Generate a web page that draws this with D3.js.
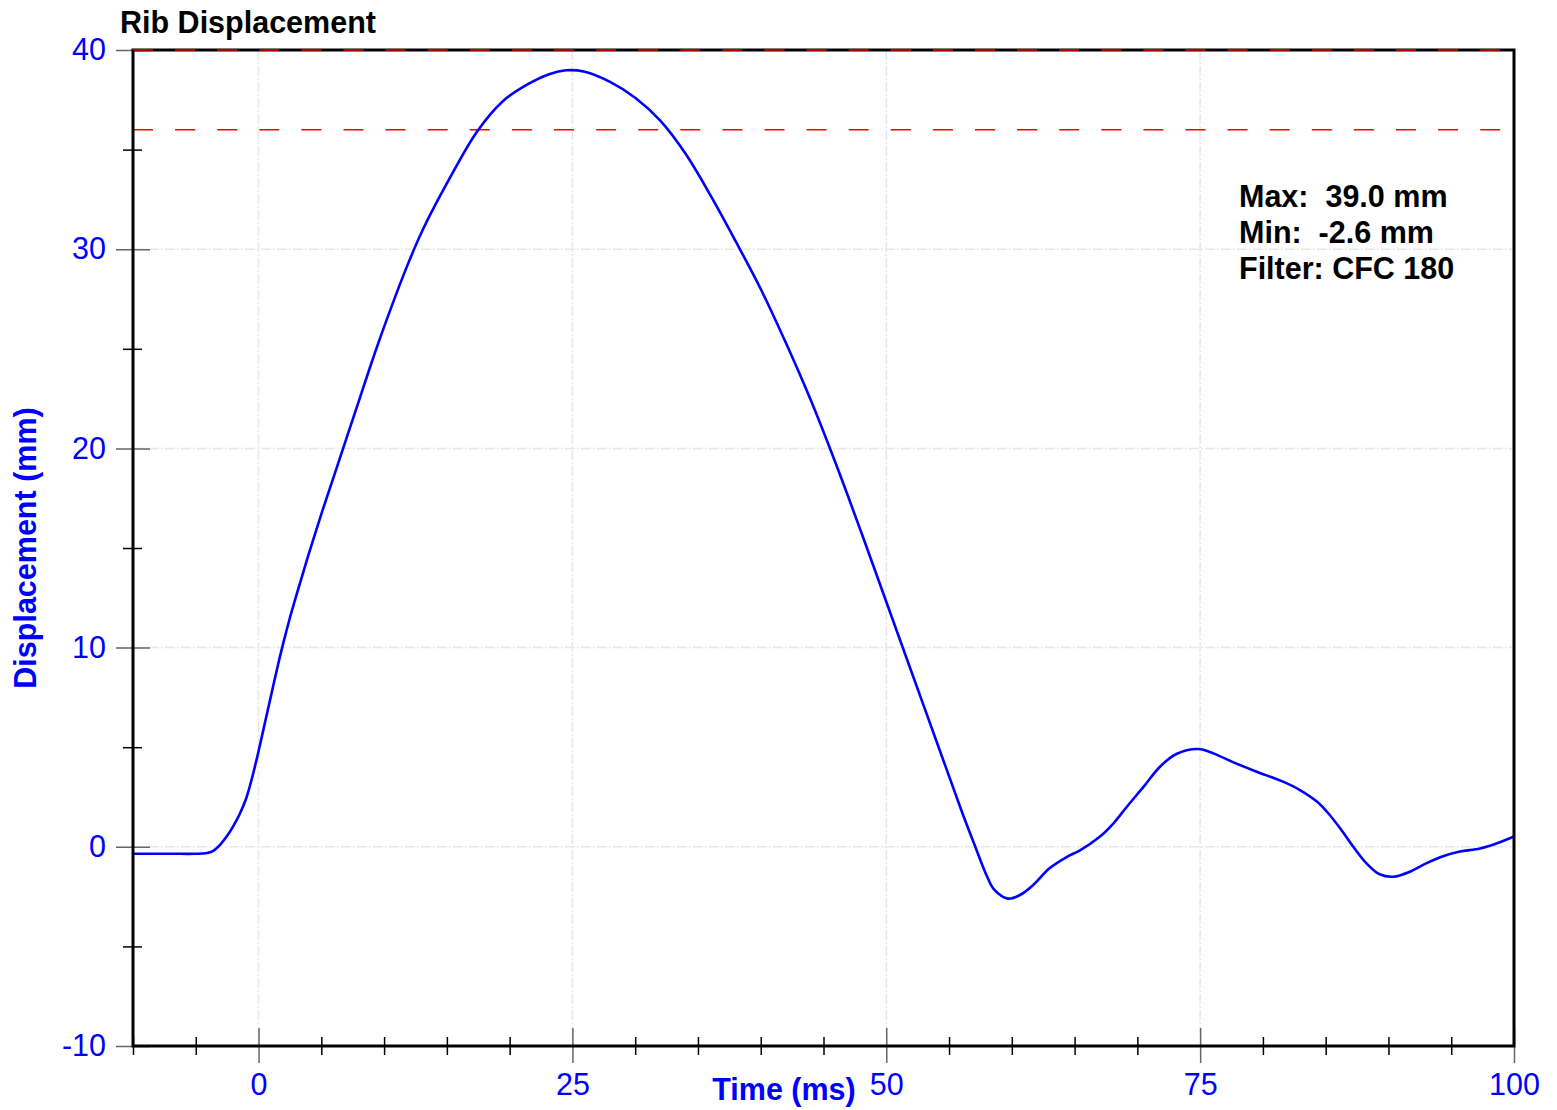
<!DOCTYPE html>
<html>
<head>
<meta charset="utf-8">
<script src="https://cdn.jsdelivr.net/npm/d3@7"></script>
<style>
  body { margin: 0; background: #fff; }
  svg { display: block; font-family: "Liberation Sans", Arial, sans-serif; }
  .lbl { font-size: 30.5px; font-weight: bold; }
  .legend text { white-space: pre; }
</style>
</head>
<body>
<svg id="chart" width="1557" height="1110"></svg>
<script>
'use strict'

// time (ms) and rib displacement (mm)
const times = [-10, -7, -5, -4.2, -3.6, -3.0, -2.5, -2.0, -1.5, -1.0, -0.5, 0,
  0.5, 1.0, 1.5, 2.0, 2.5, 3.0, 4.0, 5.0, 6.0, 7.0, 8.0, 9.0, 10.0, 11.8, 13.1, 15.0,
  17.4, 19.5, 21.35, 23.2, 24.5, 25.9, 28.0, 30.0, 32.0, 34.0, 36.0, 38.0,
  40.0, 42.0, 44.0, 46.0, 48.0, 50.0, 52.0, 54.0, 56.0, 57.0, 58.0,
  58.6, 59.7, 60.65, 61.7, 63.0, 64.4, 65.4, 67.0, 68.1, 69.15, 70.5, 71.8, 73.1,
  74.85, 76.05, 77.65, 79.5, 81.6, 82.95, 84.3, 85.1, 86.15, 87.2, 88.25, 89.3,
  90.4, 91.7, 93.0, 94.4, 95.7, 97.3, 98.6, 100]
const displacement = [-0.35, -0.35, -0.35, -0.32, -0.2, 0.15, 0.55, 1.05, 1.65, 2.4, 3.5, 4.8,
  6.2, 7.6, 9.0, 10.3, 11.5, 12.6, 14.7, 16.7, 18.6, 20.5, 22.4, 24.3, 26.1, 29.1, 31.0, 33.3,
  35.9, 37.45, 38.25, 38.8, 38.98, 38.92, 38.4, 37.6, 36.45, 34.8, 32.7, 30.4,
  28.0, 25.3, 22.4, 19.2, 15.8, 12.3, 8.8, 5.3, 1.8, 0.15, -1.45,
  -2.15, -2.6, -2.42, -1.92, -1.08, -0.5, -0.19, 0.5, 1.18, 2.0, 3.02, 4.02, 4.66,
  4.91, 4.69, 4.24, 3.77, 3.27, 2.85, 2.27, 1.76, 0.93, 0.0, -0.83, -1.38,
  -1.5, -1.25, -0.83, -0.46, -0.24, -0.08, 0.17, 0.52]

const xMajor = [0, 25, 50, 75, 100]
const xMinor = [-10, -5, 5, 10, 15, 20, 30, 35, 40, 45, 55, 60, 65, 70, 80, 85, 90, 95]
const yMajor = [-10, 0, 10, 20, 30, 40]
const yMinor = [-5, 5, 15, 25, 35]
const xGrid = [0, 25, 50, 75]
const yGrid = [0, 10, 20, 30]
const limits = [40, 36]
const legendLines = ['Max:  39.0 mm', 'Min:  -2.6 mm', 'Filter: CFC 180']

const margins = {top: 50, right: 43, bottom: 64, left: 133}
const width = 1557, height = 1110
const x = d3.scaleLinear().domain([-10, 100]).range([margins.left, width - margins.right])
const y = d3.scaleLinear().domain([-10, 40]).range([height - margins.bottom, margins.top])
const plainNum = d => String(d) // keep ascii hyphen for negatives

const svg = d3.select('#chart')
svg.append('rect').attr('width', width).attr('height', height).attr('fill', '#fff')

// grid:
const grid = svg.append('g')
  .attr('stroke', '#e8e8e8').attr('stroke-width', 1.5).attr('stroke-dasharray', '10,2,2,2')
grid.selectAll('.vg').data(xGrid).enter().append('line')
  .attr('x1', d => x(d)).attr('x2', d => x(d))
  .attr('y1', y(40)).attr('y2', y(-10))
grid.selectAll('.hg').data(yGrid).enter().append('line')
  .attr('x1', x(-10)).attr('x2', x(100))
  .attr('y1', d => y(d)).attr('y2', d => y(d))

// limit lines (red dashed):
svg.selectAll('.limit').data(limits).enter().append('line')
  .attr('x1', x(-10)).attr('x2', x(100))
  .attr('y1', d => y(d)).attr('y2', d => y(d))
  .attr('stroke', 'red').attr('stroke-width', 1.5).attr('stroke-dasharray', '20,22.1')

// curve:
const line = d3.line()
  .x((d, i) => x(times[i]))
  .y(d => y(d))
  .curve(d3.curveCatmullRom.alpha(0.5))
svg.append('path')
  .datum(displacement)
  .attr('d', line)
  .attr('fill', 'none')
  .attr('stroke', '#0000ff')
  .attr('stroke-width', 2.6)

// y axis (major ticks cross the frame, minor ticks black):
const yAxisMajor = svg.append('g')
  .attr('transform', 'translate(' + (margins.left + 17) + ',0)')
  .call(d3.axisLeft(y).tickValues(yMajor).tickSize(34).tickPadding(10).tickFormat(plainNum))
yAxisMajor.select('.domain').remove()
yAxisMajor.selectAll('line').attr('stroke', '#666').attr('stroke-width', 1.5)
yAxisMajor.selectAll('text').attr('fill', '#0000ff').style('font-size', '30.5px').style('font-family', null)

const yAxisMinor = svg.append('g')
  .attr('transform', 'translate(' + (margins.left + 9) + ',0)')
  .call(d3.axisLeft(y).tickValues(yMinor).tickSize(19).tickFormat(''))
yAxisMinor.select('.domain').remove()
yAxisMinor.selectAll('line').attr('stroke', '#000').attr('stroke-width', 1.5)

// x axis:
const xAxisMajor = svg.append('g')
  .attr('transform', 'translate(0,' + (y(-10) - 18) + ')')
  .call(d3.axisBottom(x).tickValues(xMajor).tickSize(35).tickPadding(10).tickFormat(plainNum))
xAxisMajor.select('.domain').remove()
xAxisMajor.selectAll('line').attr('stroke', '#666').attr('stroke-width', 1.5)
xAxisMajor.selectAll('text').attr('fill', '#0000ff').style('font-size', '30.5px').style('font-family', null)

const xAxisMinor = svg.append('g')
  .attr('transform', 'translate(0,' + (y(-10) - 9) + ')')
  .call(d3.axisBottom(x).tickValues(xMinor).tickSize(18).tickFormat(''))
xAxisMinor.select('.domain').remove()
xAxisMinor.selectAll('line').attr('stroke', '#000').attr('stroke-width', 1.5)

// frame:
svg.append('rect')
  .attr('x', x(-10)).attr('y', y(40))
  .attr('width', x(100) - x(-10)).attr('height', y(-10) - y(40))
  .attr('fill', 'none').attr('stroke', '#000').attr('stroke-width', 3)
// upper limit drawn over the frame:
svg.append('line')
  .attr('x1', x(-10)).attr('x2', x(100))
  .attr('y1', y(limits[0])).attr('y2', y(limits[0]))
  .attr('stroke', '#b00000').attr('stroke-width', 2).attr('stroke-dasharray', '20,22.1')

// labels:
svg.append('text').attr('class', 'lbl')
  .attr('x', 120).attr('y', 33)
  .attr('fill', '#000')
  .text('Rib Displacement')
svg.append('text').attr('class', 'lbl')
  .attr('x', 784).attr('y', 1100)
  .attr('text-anchor', 'middle')
  .attr('fill', '#0000ff')
  .text('Time (ms)')
svg.append('text').attr('class', 'lbl')
  .attr('transform', 'translate(36,' + ((y(40) + y(-10)) / 2) + ') rotate(-90)')
  .attr('text-anchor', 'middle')
  .attr('fill', '#0000ff')
  .text('Displacement (mm)')

// legend:
const legend = svg.append('g').attr('class', 'legend')
legend.selectAll('text').data(legendLines).enter().append('text')
  .attr('class', 'lbl')
  .attr('x', 1239)
  .attr('y', (d, i) => 207 + i * 36)
  .attr('fill', '#000')
  .text(d => d)
</script>
</body>
</html>
